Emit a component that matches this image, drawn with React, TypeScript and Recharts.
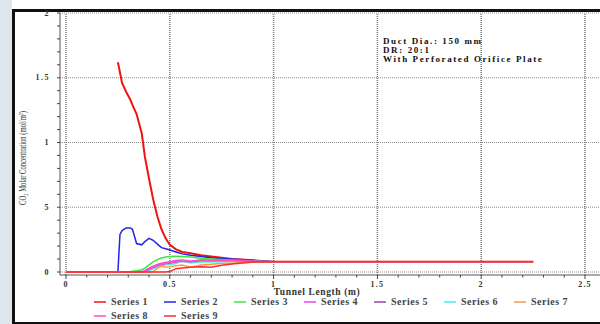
import React from 'react'
import { LineChart, Line, XAxis, YAxis, ReferenceLine, Legend } from 'recharts'

// Tunnel length (m) shared by every series
const tunnelLength = [
  0, 0.25, 0.26, 0.27, 0.29, 0.31, 0.32, 0.34, 0.365, 0.38, 0.4, 0.42, 0.44, 0.46, 0.48,
  0.5, 0.53, 0.56, 0.6, 0.65, 0.7, 0.75, 0.8, 0.9, 1.0, 1.25, 1.5, 1.75, 2.0, 2.25,
]

const series1 = [
  null, 1.62, 1.54, 1.46, 1.39, 1.33, 1.29, 1.22, 1.07, 0.89, 0.72, 0.56, 0.43, 0.33, 0.26,
  0.21, 0.175, 0.155, 0.145, 0.13, 0.12, 0.11, 0.1, 0.09, 0.08, 0.08, 0.08, 0.08, 0.08, 0.08,
]
const series2 = [
  0, 0, 0.29, 0.32, 0.34, 0.34, 0.33, 0.22, 0.21, 0.235, 0.26, 0.245, 0.215, 0.188, 0.18,
  0.17, 0.155, 0.14, 0.13, 0.12, 0.11, 0.105, 0.1, 0.09, 0.08, 0.08, 0.08, 0.08, 0.08, 0.08,
]
const series3 = [
  0, 0, 0, 0, 0, 0.003, 0.006, 0.01, 0.018, 0.03, 0.055, 0.078, 0.095, 0.108, 0.116,
  0.12, 0.122, 0.12, 0.115, 0.105, 0.1, 0.096, 0.093, 0.086, 0.08, 0.08, 0.08, 0.08, 0.08, 0.08,
]
const series4 = [
  0, 0, 0, 0, 0, 0, 0, 0, 0.003, 0.01, 0.03, 0.045, 0.058, 0.068, 0.074,
  0.079, 0.088, 0.092, 0.083, 0.092, 0.09, 0.09, 0.088, 0.084, 0.08, 0.08, 0.08, 0.08, 0.08, 0.08,
]
const series5 = [
  0, 0, 0, 0, 0, 0, 0, 0, 0, 0, 0.015, 0.03, 0.045, 0.055, 0.062,
  0.068, 0.075, 0.082, 0.08, 0.085, 0.085, 0.085, 0.083, 0.08, 0.08, 0.08, 0.08, 0.08, 0.08, 0.08,
]
const series6 = [
  0, 0, 0, 0, 0, 0, 0, 0, 0, 0, 0.01, 0.025, 0.038, 0.048, 0.055,
  0.058, 0.065, 0.088, 0.07, 0.08, 0.078, 0.08, 0.08, 0.08, 0.08, 0.08, 0.08, 0.08, 0.08, 0.08,
]
const series7 = [
  0, 0, 0, 0, 0, 0, 0, 0, 0, 0, 0, 0.002, 0.03, 0.045, 0.037,
  0.04, 0.048, 0.054, 0.036, 0.054, 0.06, 0.066, 0.068, 0.075, 0.08, 0.08, 0.08, 0.08, 0.08, 0.08,
]
const series8 = [
  0, 0, 0, 0, 0, 0, 0, 0, 0, 0.003, 0.02, 0.035, 0.048, 0.058, 0.066,
  0.072, 0.08, 0.085, 0.078, 0.086, 0.086, 0.087, 0.086, 0.082, 0.08, 0.08, 0.08, 0.08, 0.08, 0.08,
]
const series9 = [
  0, 0, 0, 0, 0, 0, 0, 0, 0, 0, 0, 0, 0, 0, 0,
  0.003, 0.026, 0.03, 0.036, 0.04, 0.036, 0.052, 0.062, 0.077, 0.08, 0.08, 0.08, 0.08, 0.08, 0.08,
]

const seriesValues = [series1, series2, series3, series4, series5, series6, series7, series8, series9]
const seriesNames = ['Series 1', 'Series 2', 'Series 3', 'Series 4', 'Series 5', 'Series 6', 'Series 7', 'Series 8', 'Series 9']
const seriesColors = ['#f01414', '#2424e8', '#3ce83c', '#f040f0', '#a040a8', '#40f0f0', '#ff9a40', '#ff50b0', '#ff2a2a']

const xMajorTicks = [0, 0.5, 1, 1.5, 2, 2.5]
const xTickLabels = ['0', '0.5', '1', '1.5', '2', '2.5']
const xAllTicks = [
  0, 0.1, 0.2, 0.3, 0.4, 0.5, 0.6, 0.7, 0.8, 0.9, 1, 1.1, 1.2, 1.3, 1.4, 1.5,
  1.6, 1.7, 1.8, 1.9, 2, 2.1, 2.2, 2.3, 2.4, 2.5,
]
const yMajorTicks = [0, 0.5, 1, 1.5, 2]
const yTickLabels = ['0', '5', '1', '1.5', '2']
const yAllTicks = [
  0, 0.1, 0.2, 0.3, 0.4, 0.5, 0.6, 0.7, 0.8, 0.9, 1, 1.1, 1.2, 1.3, 1.4, 1.5,
  1.6, 1.7, 1.8, 1.9, 2,
]

const notes = ['Duct Dia.: 150 mm', 'DR: 20:1', 'With Perforated Orifice Plate']

const FONT = '"Liberation Serif", "DejaVu Serif", serif'

const rows = tunnelLength.map((x, i) => {
  const row: Record<string, number | null> = { x }
  seriesValues.forEach((s, k) => {
    row[`s${k + 1}`] = s[i]
  })
  return row
})

function XTick(props: any) {
  const { x, y, payload } = props
  const idx = xMajorTicks.indexOf(payload.value)
  const major = idx >= 0
  return (
    <g>
      <line x1={x} x2={x} y1={y} y2={y + (major ? 4 : 2.5)} stroke="#444" />
      {major && (
        <text
          x={x}
          y={y + 9}
          textAnchor="middle"
          dominantBaseline="central"
          fontFamily={FONT}
          fontWeight="bold"
          fontSize={8}
          fill="#333"
          style={{ letterSpacing: 1.2 }}
        >
          {xTickLabels[idx]}
        </text>
      )}
    </g>
  )
}

function YTick(props: any) {
  const { x, y, payload } = props
  const idx = yMajorTicks.indexOf(payload.value)
  const major = idx >= 0
  return (
    <g>
      <line x1={x} x2={x - 3} y1={y} y2={y} stroke="#444" />
      {major && (
        <text
          x={x - 10}
          y={y}
          textAnchor="end"
          dominantBaseline="central"
          fontFamily={FONT}
          fontWeight="bold"
          fontSize={8}
          fill="#333"
          style={{ letterSpacing: 1.5 }}
        >
          {yTickLabels[idx]}
        </text>
      )}
    </g>
  )
}

function LegendContent() {
  return (
    <div style={{ display: 'flex', flexWrap: 'wrap', width: 500 }}>
      {seriesNames.map((name, i) => (
        <div key={name} style={{ width: 70, height: 14, display: 'flex', alignItems: 'center' }}>
          <svg width={12} height={4} style={{ marginRight: 5 }}>
            <line x1={0} x2={12} y1={2} y2={2} stroke={seriesColors[i]} strokeWidth={1.5} />
          </svg>
          <span style={{ fontFamily: FONT, fontWeight: 'bold', fontSize: 10, lineHeight: '14px', color: '#444', letterSpacing: 0.5 }}>{name}</span>
        </div>
      ))}
    </div>
  )
}

export default function App() {
  return (
    <div style={{ position: 'fixed', left: 0, top: 0, width: 600, height: 324, background: '#fff', overflow: 'hidden' }}>
      <div style={{ position: 'absolute', left: 0, top: 0, width: 12, height: 324, background: '#dfe5ec' }} />
      <div style={{ position: 'absolute', left: 12, top: 9, width: 620, height: 316, border: '3px solid #111', boxSizing: 'border-box' }} />
      <div style={{ position: 'absolute', left: 0, top: 0 }}>
        <LineChart width={600} height={324} data={rows} margin={{ top: 13, right: 0, left: 20, bottom: 19 }}>
          <XAxis
            dataKey="x"
            type="number"
            domain={[0, 2.5]}
            ticks={xAllTicks}
            interval={0}
            tickLine={false}
            tickSize={0}
            tickMargin={0}
            tick={(p: any) => <XTick {...p} />}
            axisLine={{ stroke: '#555' }}
            padding={{ left: 6, right: 15 }}
            height={30}
            label={() => (
              <text x={317} y={292} textAnchor="middle" dominantBaseline="central" fontFamily={FONT} fontWeight="bold" fontSize={9.5} fill="#333" style={{ letterSpacing: 0.6 }}>
                Tunnel Length (m)
              </text>
            )}
          />
          <YAxis
            type="number"
            domain={[0, 2]}
            ticks={yAllTicks}
            interval={0}
            tickLine={false}
            tickSize={0}
            tickMargin={0}
            tick={(p: any) => <YTick {...p} />}
            axisLine={{ stroke: '#555' }}
            padding={{ top: 0, bottom: 3 }}
            width={40}
            label={() => (
              <text
                x={22}
                y={158}
                transform="rotate(-90 22 158)"
                textAnchor="middle"
                dominantBaseline="central"
                fontFamily={FONT}
                fontSize={11}
                fill="#333"
                textLength={94}
                lengthAdjust="spacingAndGlyphs"
              >
                CO₂ Molar Concentration (mol/m³)
              </text>
            )}
          />
          {yMajorTicks.map((v) => (
            <ReferenceLine key={`h${v}`} y={v} stroke="#8a8a8a" strokeDasharray="1 1" />
          ))}
          {xMajorTicks.map((v) => (
            <ReferenceLine key={`v${v}`} x={v} stroke="#7a7a7a" strokeWidth={1.5} strokeDasharray="1 1" />
          ))}
          {seriesNames.map((name, i) => (
            <Line
              key={name}
              name={name}
              dataKey={`s${i + 1}`}
              type="linear"
              stroke={seriesColors[i]}
              strokeWidth={i === 0 ? 2 : 1.5}
              dot={false}
              isAnimationActive={false}
            />
          ))}
          <Legend
            verticalAlign="middle"
            content={() => <LegendContent />}
            wrapperStyle={{ position: 'absolute', left: 94, top: 295, width: 500, height: 28 }}
          />
        </LineChart>
      </div>
      <div style={{ position: 'absolute', left: 383, top: 37, fontFamily: FONT, fontWeight: 'bold', fontSize: 9, lineHeight: '9px', color: '#111', letterSpacing: 1.6, whiteSpace: 'nowrap' }}>
        {notes.map((n) => (
          <div key={n}>{n}</div>
        ))}
      </div>
    </div>
  )
}
